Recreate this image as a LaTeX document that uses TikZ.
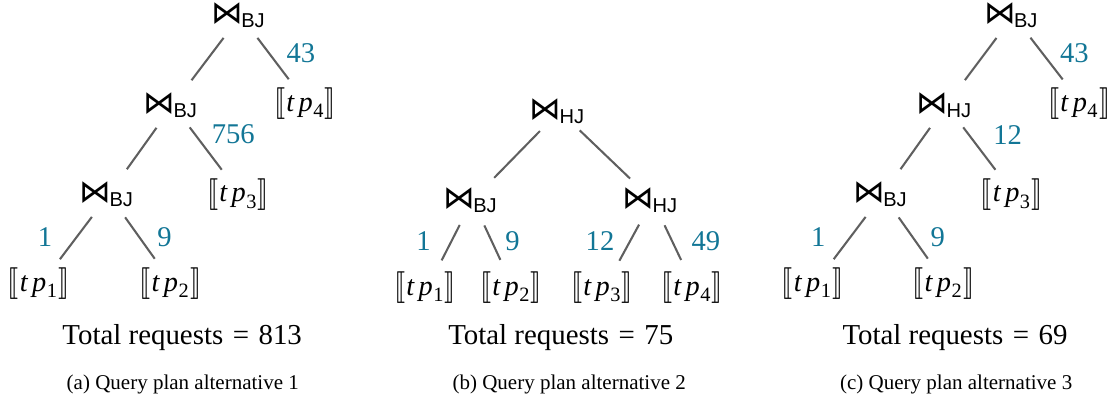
\documentclass[tikz,border=0pt]{standalone}
\usepackage{graphicx}
\usepackage{stmaryrd}
\usepackage{fontspec}
\setmainfont{Liberation Serif}
\newfontfamily\bowfont{DejaVu Sans}
\newfontfamily\sansfont{Liberation Sans}
\usetikzlibrary{calc}
\definecolor{numblue}{RGB}{18,118,150}
\definecolor{edgegray}{RGB}{95,95,95}
\newcommand{\joinop}[1]{{\bowfont\fontsize{11.5}{12}\selectfont ⋈}\kern-0.6pt\raisebox{-1.5pt}{\sansfont\fontsize{7.3}{8}\selectfont #1}}
\newcommand{\lbr}{\raisebox{-0.2pt}{\scalebox{1}[1.15]{$\llbracket$}}}
\newcommand{\rbr}{\raisebox{-0.2pt}{\scalebox{1}[1.15]{$\rrbracket$}}}
\newcommand{\tpset}[1]{\lbr\kern0.4pt\textit{t\kern1.6pt p}\kern0.2pt\raisebox{-2.4pt}{\fontsize{7.4}{8}\selectfont #1}\kern0.5pt\rbr}
\newcommand{\link}[2]{\draw[edge] ($(#1)+(2.5,0)$) -- ($(#2)+(2.5,0)$);}
\tikzset{
  op/.style={inner sep=0pt},
  leaf/.style={inner sep=0pt, font=\fontsize{10.3}{12}\selectfont},
  num/.style={inner sep=0pt, anchor=base, text=numblue, font=\fontsize{10.4}{12}\selectfont},
  total/.style={inner sep=0pt, anchor=base, font=\fontsize{10.5}{12}\selectfont},
  caption/.style={inner sep=0pt, anchor=base, font=\fontsize{7.64}{9}\selectfont},
  edge/.style={draw=edgegray, line width=0.75pt, shorten <=10.2pt, shorten >=11.3pt}
}
\newcommand{\eqsp}{\hspace{0.33em}=\hspace{0.33em}}
\begin{document}
\begin{tikzpicture}[x=0.3636pt, y=-0.3636pt]
\useasboundingbox (0,0) rectangle (1113,404);
% ---------- (a)
\node[op] (ra) at (238,15.5) {\joinop{BJ}};
\node[op] (ma) at (170.3,105) {\joinop{BJ}};
\node[op] (ba) at (106.3,194.5) {\joinop{BJ}};
\node[leaf] (a4) at (305,104) {\tpset{4}};
\node[leaf] (a3) at (238,194.5) {\tpset{3}};
\node[leaf] (a1) at (38.7,284) {\tpset{1}};
\node[leaf] (a2) at (170.3,284) {\tpset{2}};
\link{ra}{ma} \link{ra}{a4}
\link{ma}{ba} \link{ma}{a3}
\link{ba}{a1} \link{ba}{a2}
\node[num] (na4) at (300.8,62.7) {43};
\node[num] (na3) at (233.3,143.3) {756};
\node[num] (na1) at (45,246.7) {1};
\node[num] (na2) at (164.5,246.7) {9};
\node[total] (ta) at (182.2,344) {Total requests\eqsp813};
\node[caption] (ca) at (182.8,389.5) {(a) Query plan alternative 1};
% ---------- (b)
\node[op] (rb) at (557,111) {\joinop{HJ}};
\node[op] (mb1) at (470,200) {\joinop{BJ}};
\node[op] (mb2) at (650,200) {\joinop{HJ}};
\node[leaf] (b1) at (425,288) {\tpset{1}};
\node[leaf] (b2) at (511,288) {\tpset{2}};
\node[leaf] (b3) at (602,288) {\tpset{3}};
\node[leaf] (b4) at (692,288) {\tpset{4}};
\link{rb}{mb1} \link{rb}{mb2}
\link{mb1}{b1} \link{mb1}{b2}
\link{mb2}{b3} \link{mb2}{b4}
\node[num] (nb1) at (423.5,250.7) {1};
\node[num] (nb2) at (512.5,250.7) {9};
\node[num] (nb3) at (600,250.7) {12};
\node[num] (nb4) at (705.8,250.7) {49};
\node[total] (tb) at (560.8,344) {Total requests\eqsp75};
\node[caption] (cb) at (569.2,389.5) {(b) Query plan alternative 2};
% ---------- (c)
\node[op] (rc) at (1010.8,15.5) {\joinop{BJ}};
\node[op] (mc) at (943.8,105) {\joinop{HJ}};
\node[op] (bc) at (880,194.5) {\joinop{BJ}};
\node[leaf] (c4) at (1079.2,104) {\tpset{4}};
\node[leaf] (c3) at (1011.7,194.5) {\tpset{3}};
\node[leaf] (c1) at (812.5,284) {\tpset{1}};
\node[leaf] (c2) at (943.3,284) {\tpset{2}};
\link{rc}{mc} \link{rc}{c4}
\link{mc}{bc} \link{mc}{c3}
\link{bc}{c1} \link{bc}{c2}
\node[num] (nc4) at (1074.3,62.7) {43};
\node[num] (nc3) at (1007.7,144) {12};
\node[num] (nc1) at (818.3,246.7) {1};
\node[num] (nc2) at (937.7,246.7) {9};
\node[total] (tc) at (955,344) {Total requests\eqsp69};
\node[caption] (cc) at (956.2,389.5) {(c) Query plan alternative 3};
\end{tikzpicture}
\end{document}
